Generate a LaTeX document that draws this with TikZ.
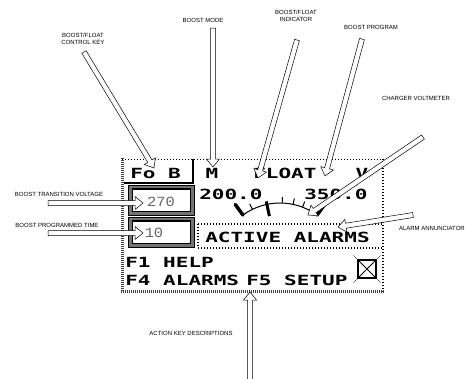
\documentclass[tikz,border=0pt]{standalone}
\usepackage{fontspec}
\newfontfamily\lcdfont{DejaVu Sans Mono}
\newfontfamily\callfont{Liberation Sans}
\newfontfamily\boxfont{Liberation Mono}
\usetikzlibrary{calc}

\newcommand{\hollowarrow}[2]{%
  \coordinate (ahbase) at ($(#2)!8pt!(#1)$);
  \filldraw[arrowbody] ($(#1)!2.5pt!90:(#2)$) -- ($(ahbase)!2.5pt!90:(#2)$) -- ($(ahbase)!6.5pt!90:(#2)$) -- (#2)
    -- ($(ahbase)!6.5pt!-90:(#2)$) -- ($(ahbase)!2.5pt!-90:(#2)$) -- ($(#1)!2.5pt!-90:(#2)$) -- cycle;}

\begin{document}
\begin{tikzpicture}[x=1pt,y=-1pt,line join=miter,
  lcd/.style={font=\fontsize{14}{14}\lcdfont\bfseries,xscale=1.5,inner sep=0pt},
  numtxt/.style={font=\fontsize{14}{14}\boxfont,text=black!60,xscale=1.1,inner sep=0pt},
  lbl/.style={font=\fontsize{6}{7}\callfont,align=center,inner sep=0pt},
  arrowbody/.style={draw=black,fill=white,line width=0.5pt},
  dither/.style={black!75,line width=3pt,dash pattern=on 1pt off 1pt},
  dotline/.style={line width=1.2pt,dash pattern=on 1pt off 2pt}]
\useasboundingbox (0,0) rectangle (466,378);
\draw[dotline,line width=1pt] (122,159) -- (383,159);
\draw[dotline,line width=1.6pt] (383,159) -- (383,292);
\draw[dither] (122.5,158) -- (122.5,292);
\draw[dither] (121,291) -- (384,291);
\draw[line width=2pt] (193,159) -- (193,183);
\draw[line width=2pt] (124,182.5) -- (194,182.5);
\draw[fill=black!55,line width=0.8pt] (128,185) rectangle (194,215);
\draw[fill=white,line width=1.2pt] (132.5,189) rectangle (190.5,211.5);
\draw[fill=black!55,line width=0.8pt] (128,217) rectangle (194,247);
\draw[fill=white,line width=1.2pt] (132.5,221) rectangle (190.5,243.5);
\draw[dotline] (198,224) rectangle (383,248);
\draw[line width=1.5pt] (358,260) rectangle (376,278);
\draw[line width=0.8pt] (358,260) -- (376,278) (376,260) -- (358,278);
\draw[densely dotted,line width=0.6pt] (358,260) -- (353,255) (376,260) -- (381,255) (358,278) -- (353,283) (376,278) -- (381,283);
\node[lcd,anchor=west] (fb) at (130,173) {Fo B};
\node[lcd] (mode) at (212,173) {M};
\node[lcd,anchor=west] (float) at (253,173) {FLOAT};
\node[lcd] (unit) at (362,173) {V};
\node[lcd,anchor=west] (vlow) at (199,194) {200.0};
\node[lcd,anchor=west] (vhigh) at (304,194) {350.0};
\node[numtxt] (tvolt) at (161,202) {270};
\node[numtxt] (ptime) at (154,233) {10};
\node[lcd,anchor=west] (alarms) at (205,237) {ACTIVE ALARMS};
\node[lcd,anchor=west] (help) at (125,262) {F1 HELP};
\node[lcd,anchor=west] (falarm) at (125,280) {F4 ALARMS};
\node[lcd,anchor=west] (setup) at (246,280) {F5 SETUP};
\coordinate (gc) at (280,266);
\draw[line width=1pt] ([shift={(-126:63)}]gc) arc[start angle=-126,end angle=-54,radius=63];
\foreach \a in {-116,-88,-78,-69}
  \draw[line width=1pt] ([shift={(\a:63)}]gc) -- ([shift={(\a:69)}]gc);
\draw[line width=3pt] ([shift={(-102:51)}]gc) -- ([shift={(-102:66)}]gc);
\draw[line width=3.5pt,line cap=round] ([shift={(-126:63)}]gc) -- ([shift={(-126:76)}]gc);
\draw[line width=3.5pt,line cap=round] ([shift={(-54:63)}]gc) -- ([shift={(-54:76)}]gc);
\node[lbl] (ckey) at (83,39) {BOOST/FLOAT\\CONTROL KEY};
\node[lbl] (bmode) at (203,20) {BOOST MODE};
\node[lbl] (bfind) at (296,16) {BOOST/FLOAT\\INDICATOR};
\node[lbl] (bprog) at (371,27) {BOOST PROGRAM};
\node[lbl] (cvolt) at (416,98) {CHARGER VOLTMETER};
\node[lbl,anchor=east] (alarm) at (465,228) {ALARM ANNUNCIATOR};
\node[lbl] (btv) at (59,194) {BOOST TRANSITION VOLTAGE};
\node[lbl] (bpt) at (57,225) {BOOST PROGRAMMED TIME};
\node[lbl] (akd) at (191,333) {ACTION KEY DESCRIPTIONS};
\coordinate (ckeyT) at (84,52);
\coordinate (ckeyH) at (154,168);
\coordinate (bmodeT) at (213,28);
\coordinate (bmodeH) at (213,167);
\coordinate (bfindT) at (297,40);
\coordinate (bfindH) at (258,178);
\coordinate (bprogT) at (362,39);
\coordinate (bprogH) at (325,176);
\coordinate (cvoltT) at (423,137);
\coordinate (cvoltH) at (308,215);
\coordinate (alarmT) at (413,215);
\coordinate (alarmH) at (338,227);
\coordinate (btvT) at (48,203);
\coordinate (btvH) at (143,203);
\coordinate (bptT) at (48,233);
\coordinate (bptH) at (143,233);
\coordinate (akdT) at (250,382);
\coordinate (akdH) at (250,292);
\hollowarrow{ckeyT}{ckeyH}
\hollowarrow{bmodeT}{bmodeH}
\hollowarrow{bfindT}{bfindH}
\hollowarrow{bprogT}{bprogH}
\hollowarrow{cvoltT}{cvoltH}
\hollowarrow{alarmT}{alarmH}
\hollowarrow{btvT}{btvH}
\hollowarrow{bptT}{bptH}
\hollowarrow{akdT}{akdH}
\end{tikzpicture}
\end{document}
